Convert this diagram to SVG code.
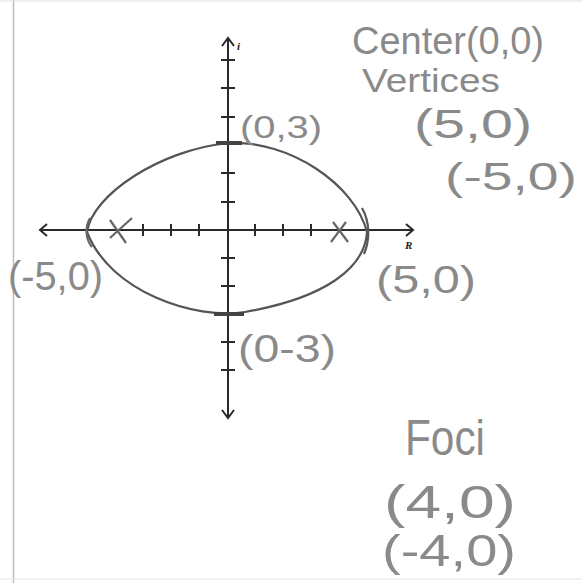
<svg xmlns="http://www.w3.org/2000/svg" width="582" height="583" viewBox="0 0 582 583">
<style>
.ax{stroke:#2a2a2a;stroke-width:2;fill:none}
.tk{stroke:#2a2a2a;stroke-width:2}
.curve{stroke:#555;stroke-width:2.2;fill:none}
.hw{font-family:"Liberation Sans","DejaVu Sans",sans-serif;fill:#8a8a8a;font-weight:300}
.lab{font-family:"Liberation Serif",serif;fill:#222;font-weight:bold;font-style:italic}
</style>
<rect width="582" height="583" fill="#fff"/>
<line x1="13.5" y1="0" x2="13.5" y2="583" stroke="#bdbdbd" stroke-width="1.5"/>
<line x1="0" y1="1" x2="582" y2="1" stroke="#e0e0e0" stroke-width="1"/>
<line x1="0" y1="579" x2="582" y2="579" stroke="#e6e6e6" stroke-width="1"/>
<g id="axes">
<line class="ax" x1="40" y1="230" x2="413" y2="230"/>
<polyline class="ax" points="47,224 40,230 47,236"/>
<polyline class="ax" points="406,224 413,230 406,236"/>
<line class="ax" x1="228" y1="38" x2="228" y2="418"/>
<polyline class="ax" points="222,46 228,38 234,46"/>
<polyline class="ax" points="222,410 228,418 234,410"/>
<g class="tk">
<line x1="143" y1="224" x2="143" y2="236"/>
<line x1="171" y1="224" x2="171" y2="236"/>
<line x1="199" y1="224" x2="199" y2="236"/>
<line x1="255" y1="224" x2="255" y2="236"/>
<line x1="283" y1="224" x2="283" y2="236"/>
<line x1="311" y1="224" x2="311" y2="236"/>
<line x1="221" y1="60" x2="235" y2="60"/>
<line x1="221" y1="88" x2="235" y2="88"/>
<line x1="221" y1="117" x2="235" y2="117"/>
<line x1="221" y1="173" x2="235" y2="173"/>
<line x1="221" y1="202" x2="235" y2="202"/>
<line x1="221" y1="258" x2="235" y2="258"/>
<line x1="221" y1="286" x2="235" y2="286"/>
<line x1="221" y1="342" x2="235" y2="342"/>
<line x1="221" y1="370" x2="235" y2="370"/>
</g>
<text class="lab" x="237" y="50" font-size="11">i</text>
<text class="lab" x="405" y="249" font-size="11">R</text>
</g>
<g id="ellipse">
<path class="curve" d="M87,232 C92,195 160,150 228,143 C290,140 355,185 367,232 C365,268 325,298 245,312 C195,320 110,292 87,232 Z"/>
<path d="M216,143 L242,143" stroke="#444" stroke-width="4"/>
<path d="M214,314 L244,314" stroke="#444" stroke-width="4"/>
<path d="M90,218 C84,228 86,240 92,247" stroke="#666" stroke-width="2" fill="none"/>
<path d="M362,208 C370,222 370,240 364,254" stroke="#555" stroke-width="2.2" fill="none"/>
</g>
<g id="foci-marks" stroke="#666" stroke-width="2.2">
<line x1="110" y1="220" x2="126" y2="243"/>
<line x1="110" y1="238" x2="132" y2="218"/>
<line x1="333" y1="222" x2="348" y2="242"/>
<line x1="331" y1="242" x2="346" y2="222"/>
</g>
<g id="labels">
<text class="hw" x="352" y="54" font-size="38" textLength="192" lengthAdjust="spacingAndGlyphs">Center(0,0)</text>
<text class="hw" x="362" y="92" font-size="34" textLength="138" lengthAdjust="spacingAndGlyphs">Vertices</text>
<text class="hw" x="414" y="138" font-size="40" textLength="118" lengthAdjust="spacingAndGlyphs">(5,0)</text>
<text class="hw" x="445" y="190" font-size="38" textLength="132" lengthAdjust="spacingAndGlyphs">(-5,0)</text>
<text class="hw" x="240" y="138" font-size="32" textLength="82" lengthAdjust="spacingAndGlyphs">(0,3)</text>
<text class="hw" x="8" y="290" font-size="40" textLength="95" lengthAdjust="spacingAndGlyphs">(-5,0)</text>
<text class="hw" x="376" y="293" font-size="38" textLength="100" lengthAdjust="spacingAndGlyphs">(5,0)</text>
<text class="hw" x="238" y="362" font-size="38" textLength="98" lengthAdjust="spacingAndGlyphs">(0-3)</text>
<text class="hw" x="405" y="455" font-size="50" textLength="80" lengthAdjust="spacingAndGlyphs">Foci</text>
<text class="hw" x="384" y="518" font-size="46" textLength="132" lengthAdjust="spacingAndGlyphs">(4,0)</text>
<text class="hw" x="382" y="566" font-size="44" textLength="134" lengthAdjust="spacingAndGlyphs">(-4,0)</text>
</g>
</svg>
